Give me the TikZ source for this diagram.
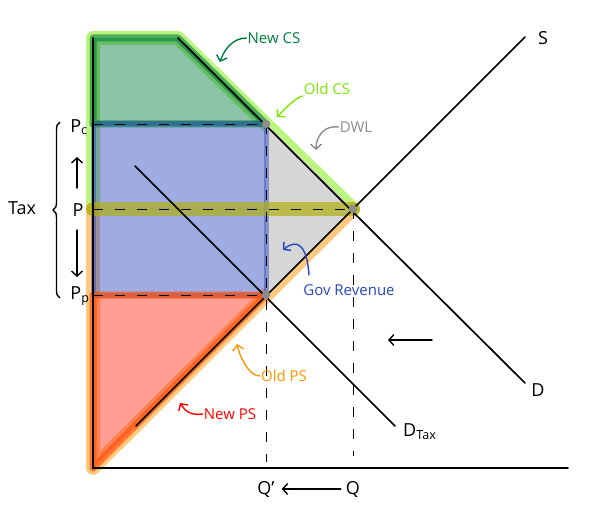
\documentclass[tikz,border=0pt]{standalone}
\usepackage{fontspec}
\setmainfont{Open Sans}
\usetikzlibrary{positioning}
\usetikzlibrary{math}
\usetikzlibrary{arrows.meta}
\usetikzlibrary{decorations.pathreplacing}
\definecolor{csgreen}{RGB}{0,125,62}
\definecolor{oldlime}{RGB}{120,235,0}
\definecolor{govblue}{RGB}{40,70,190}
\definecolor{psred}{RGB}{255,40,20}
\definecolor{psorange}{RGB}{255,150,0}
\definecolor{pband}{RGB}{175,175,20}
\tikzset{curve/.style={line width=1.7pt, line cap=round},
	guide/.style={line width=0.9pt, dash pattern=on 10pt off 12pt},
	glow/.style={line width=#1, line cap=round, line join=round},glow/.default={12pt},
	lbl/.style={font=\fontsize{18}{18}\selectfont, inner sep=1pt},
	note/.style={font=\fontsize{15}{15}\selectfont, inner sep=1pt},
	pin/.style={-{Straight Barb[length=5pt,width=11pt]}, line width=1.4pt, line cap=round}}

\begin{document}
\begin{tikzpicture}[x=1pt,y=-1pt]
	\tikzmath{\ox=93; \oy=468; \ytop=38; \kx=178;
	\ex=353; \ey=209; \qx=266; \pcy=124; \ppy=295;
	\xend=568;}
	\useasboundingbox (0,0) rectangle (596,513);
	\coordinate (O) at (\ox,\oy);
	\coordinate (A) at (\ox,\ytop);
	\coordinate (K) at (\kx,\ytop);
	\coordinate (E) at (\ex,\ey);
	\coordinate (C) at (\qx,\pcy);
	\coordinate (F) at (\qx,\ppy);
	\coordinate (Pc0) at (\ox,\pcy);
	\coordinate (P0) at (\ox,\ey);
	\coordinate (Pp0) at (\ox,\ppy);
	\coordinate (Xend) at (\xend,\oy);
	\coordinate (Sa) at (136,426);
	\coordinate (Sb) at (525,37);
	\coordinate (Db) at (525,383);
	\coordinate (Ta) at (135,166);
	\coordinate (Tb) at (395,426);
	\coordinate (Qp0) at (\qx,462);
	\coordinate (Q0) at (\ex,456);

	\draw[glow=14pt, oldlime, opacity=0.5] (P0) -- (A) -- (K) -- (E);
	\draw[glow=14pt, psorange, opacity=0.5] (P0) -- (O) -- (E);

	\fill[csgreen, opacity=0.45] (A) -- (K) -- (C) -- (Pc0) -- cycle;
	\fill[govblue, opacity=0.45] (Pc0) -- (C) -- (F) -- (Pp0) -- cycle;
	\fill[black!16] (C) -- (E) -- (F) -- cycle;
	\fill[psred, opacity=0.45] (Pp0) -- (F) -- (O) -- cycle;

	\draw[glow=7pt, csgreen, opacity=0.6] (Pc0) -- (A) -- (K) -- (C) -- cycle;
	\draw[glow=5pt, govblue, opacity=0.45] (Pc0) -- (C) -- (F) -- (Pp0) -- cycle;
	\draw[glow=7pt, psred!60!psorange, opacity=0.7] (Pp0) -- (F) -- (O) -- cycle;
	\draw[glow=14pt, pband, opacity=0.7] (P0) -- (E);

	\draw[guide] (Pc0) -- (C);
	\draw[guide] (P0) -- (E);
	\draw[guide] (Pp0) -- (F);
	\draw[guide] (C) -- (Qp0);
	\draw[guide] (E) -- (Q0);

	\draw[curve] (A) -- (O) -- (Xend);
	\draw[curve] (Sa) -- (Sb);
	\draw[curve] (K) -- (Db);
	\draw[curve] (Ta) -- (Tb);

	\filldraw[black!45] (C) circle (4);
	\filldraw[black!45] (F) circle (4);
	\filldraw[black!45] (E) circle (4);

	\node[lbl] (lblS) at (543,38) {S};
	\node[lbl] (lblD) at (538,390) {D};
	\node[lbl, anchor=west] (lblDT) at (402,432) {D\textsubscript{Tax}};
	\node[lbl] (lblPc) at (79,127) {P\textsubscript{c}};
	\node[lbl] (lblP) at (78,210) {P};
	\node[lbl] (lblPp) at (80,296) {P\textsubscript{p}};
	\node[lbl] (lblQp) at (266,489) {Q'};
	\node[lbl] (lblQ) at (353,489) {Q};
	\node[lbl] (lblTax) at (22,208) {Tax};

	\coordinate (upA) at (77,188);
	\coordinate (upB) at (77,157);
	\coordinate (dnA) at (77,230);
	\coordinate (dnB) at (77,277);
	\coordinate (shA) at (432,340);
	\coordinate (shB) at (388,340);
	\draw[pin] (upA) -- (upB);
	\draw[pin] (dnA) -- (dnB);
	\draw[pin] (shA) -- (shB);
	\draw[pin, shorten <=4pt, shorten >=6pt] (lblQ.west) -- (lblQp.east);
	\draw[line width=1.4pt, decorate, decoration={brace, amplitude=7pt}] (60,298) -- (60,122);

	\node[note, text=csgreen] (newcs) at (274,38) {New CS};
	\coordinate (tipNewCS) at (220,62);
	\draw[pin, csgreen] (newcs.west) .. controls +(-14,0) and +(4,-12) .. (tipNewCS);
	\node[note, text=oldlime] (oldcs) at (327,89) {Old CS};
	\coordinate (tipOldCS) at (277,117);
	\draw[pin, oldlime] (oldcs.south west) .. controls +(-8,2) and +(8,-8) .. (tipOldCS);
	\node[note, text=black!45] (dwl) at (356,127) {DWL};
	\coordinate (tipDWL) at (316,150);
	\draw[pin, black!45] (dwl.west) .. controls +(-14,-2) and +(0,-14) .. (tipDWL);
	\node[note, text=govblue] (gov) at (349,290) {Gov Revenue};
	\coordinate (tailGov) at (309,275);
	\coordinate (tipGov) at (283,250);
	\draw[pin, govblue] (tailGov) .. controls (307,245) and (297,238) .. (tipGov);
	\node[note, text=psorange] (oldps) at (284,376) {Old PS};
	\coordinate (tipOldPS) at (237,344);
	\draw[pin, psorange] (oldps.west) .. controls +(-12,0) and +(2,10) .. (tipOldPS);
	\node[note, text=red] (newps) at (230,414) {New PS};
	\coordinate (tipNewPS) at (180,403);
	\draw[pin, red] (newps.west) .. controls +(-14,2) and +(4,6) .. (tipNewPS);
\end{tikzpicture}
\end{document}
